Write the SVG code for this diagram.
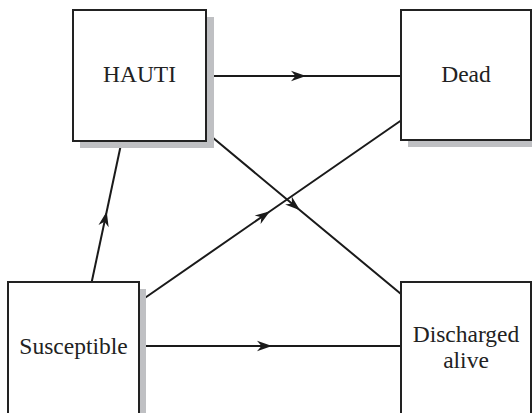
<svg xmlns="http://www.w3.org/2000/svg" width="532" height="413" viewBox="0 0 532 413">
<style>
.conn{fill:none;stroke:#1a1a1a;stroke-width:2;marker-mid:url(#arr)}
.box{fill:#fff;stroke:#222;stroke-width:2}
.shadow{fill:#bfc0c3}
.lbl{font-family:"Liberation Serif","Times New Roman",serif;font-size:23.5px;fill:#222;text-anchor:middle}
</style>
<defs>
<marker id="arr" markerUnits="userSpaceOnUse" viewBox="-16 -6 17 12" refX="0" refY="0" markerWidth="17" markerHeight="12" orient="auto">
<path d="M0,0 L-15,-5.2 L-10.5,0 L-15,5.2 Z" fill="#1a1a1a"/>
</marker>
</defs>
<rect width="532" height="413" fill="#fff"/>
<g id="connectors">
<path class="conn" d="M206,76 L306,76 L401,76"/>
<path class="conn" d="M139,346 L272,346 L401,346"/>
<path class="conn" d="M91.7,282 L106.7,211.5 L121.7,141"/>
<path class="conn" d="M206,132 L300,210.2 L401,294"/>
<path class="conn" d="M139,302 L270,211.2 L401,120.5"/>
</g>
<g id="hauti">
<rect class="shadow" x="80" y="17" width="134" height="131"/>
<rect class="box" x="73" y="10" width="133" height="131"/>
<text class="lbl" x="139.5" y="82">HAUTI</text>
</g>
<g id="dead">
<rect class="shadow" x="408" y="17" width="132" height="130"/>
<rect class="box" x="401" y="10" width="130" height="130"/>
<text class="lbl" x="466" y="82">Dead</text>
</g>
<g id="susceptible">
<rect class="shadow" x="15" y="289" width="131" height="140"/>
<rect class="box" x="8" y="282" width="131" height="140"/>
<text class="lbl" x="73.5" y="354">Susceptible</text>
</g>
<g id="discharged">
<rect class="shadow" x="408" y="289" width="132" height="140"/>
<rect class="box" x="401" y="282" width="130" height="140"/>
<text class="lbl" x="466" y="341.5">Discharged</text>
<text class="lbl" x="466" y="368">alive</text>
</g>
</svg>
